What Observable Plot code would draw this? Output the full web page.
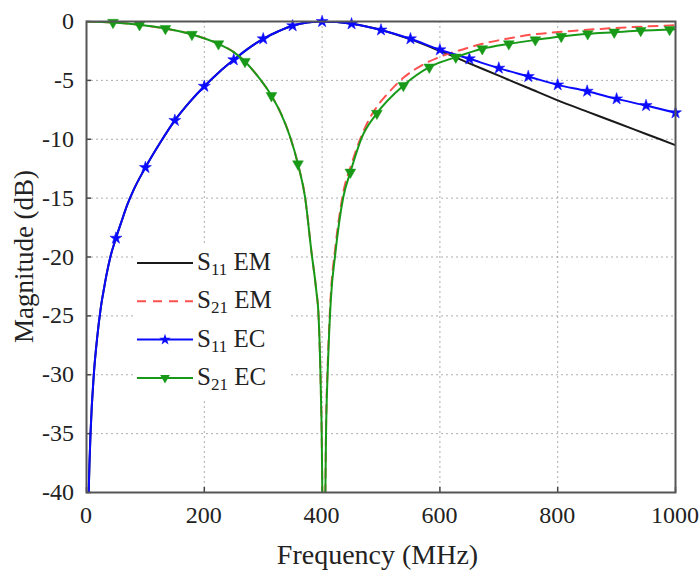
<!DOCTYPE html>
<html><head><meta charset="utf-8">
<script src="https://cdn.jsdelivr.net/npm/d3@7"></script>
<script src="https://cdn.jsdelivr.net/npm/@observablehq/plot@0.6"></script>
<style>
body{margin:0;background:#fff}
#chart{width:700px;height:573px}
</style>
</head><body><div id="chart"></div>
<script>
// S11 EM (black solid)
const s11emFreq = [3, 4, 7, 12.4, 18, 24, 30, 34, 40, 50, 60, 69, 80, 100, 125, 150, 175, 200, 225, 250, 275, 300, 325, 350, 375, 400, 425, 450, 475, 500, 550, 600, 650, 700, 750, 800, 850, 900, 950, 1000];
const s11emDb   = [-42, -39.5, -34.8, -30, -26.9, -24.4, -22.6, -21.5, -20.1, -18.4, -16.9, -15.6, -14.3, -12.4, -10.3, -8.4, -6.85, -5.5, -4.3, -3.25, -2.28, -1.47, -0.85, -0.36, -0.08, 0, -0.05, -0.2, -0.42, -0.72, -1.52, -2.5, -3.55, -4.6, -5.65, -6.7, -7.65, -8.6, -9.55, -10.5];
// S21 EM (red dashed)
const s21emFreq = [0, 45, 90, 134, 179, 224, 250, 269, 290, 314, 330, 345, 359, 371, 382, 390, 394, 397, 399, 403, 407, 410, 415, 422, 436, 450, 467, 480, 495, 510, 540, 570, 600, 640, 680, 710, 750, 800, 850, 900, 950, 1000];
const s21emDb   = [0, -0.08, -0.28, -0.6, -1.1, -1.9, -2.6, -3.4, -4.6, -6.3, -7.8, -9.7, -12.1, -14.9, -19.6, -22.8, -25, -29.5, -34, -50, -33.5, -28.5, -23, -19.4, -14.5, -12.1, -9.7, -8.3, -7.1, -6.2, -4.7, -3.7, -3.0, -2.35, -1.8, -1.5, -1.15, -0.9, -0.7, -0.55, -0.42, -0.32];
// S11 EC (blue, star markers)
const s11ecFreq = [3, 4, 7, 12.4, 18, 24, 30, 34, 40, 50, 60, 69, 80, 100, 125, 150, 175, 200, 225, 250, 275, 300, 325, 350, 375, 400, 425, 450, 475, 500, 550, 600, 650, 700, 750, 800, 850, 900, 950, 1000];
const s11ecDb   = [-42, -39.5, -34.8, -30, -26.9, -24.4, -22.6, -21.5, -20.1, -18.4, -16.9, -15.6, -14.3, -12.4, -10.3, -8.4, -6.85, -5.5, -4.3, -3.25, -2.28, -1.47, -0.85, -0.36, -0.08, 0, -0.05, -0.2, -0.42, -0.72, -1.47, -2.4, -3.17, -3.96, -4.67, -5.38, -5.92, -6.57, -7.14, -7.75];
const s11ecMarkFreq = [50, 100, 150, 200, 250, 300, 350, 400, 450, 500, 550, 600, 650, 700, 750, 800, 850, 900, 950, 1000];
// S21 EC (green, triangle markers)
const s21ecFreq = [0, 45, 90, 134, 179, 224, 250, 269, 290, 314, 330, 345, 359, 371, 382, 390, 394, 397, 399, 403, 407, 410, 415, 422, 436, 448, 467, 493, 538, 582, 627, 672, 717, 762, 806, 851, 896, 941, 990, 1000];
const s21ecDb   = [0, -0.08, -0.28, -0.6, -1.1, -1.9, -2.6, -3.4, -4.6, -6.3, -7.8, -9.7, -12.1, -14.9, -19.6, -22.8, -25, -29.5, -34, -50, -34, -29, -23.5, -19.9, -14.9, -12.8, -9.9, -7.8, -5.44, -3.88, -3.03, -2.32, -1.9, -1.56, -1.27, -1.05, -0.91, -0.77, -0.68, -0.66];
const s21ecMarkFreq = [45, 90, 134, 179, 224, 269, 314, 359, 403, 448, 493, 538, 582, 627, 672, 717, 762, 806, 851, 896, 941, 990];

const xTicks = [0, 200, 400, 600, 800, 1000];
const yTicks = [0, -5, -10, -15, -20, -25, -30, -35, -40];
const xTitle = "Frequency (MHz)";
const yTitle = "Magnitude (dB)";
const seriesNames = ["EM", "EM", "EC", "EC"];
const seriesSubs = ["11", "21", "11", "21"];

const tbl = (fs, ds) => fs.map((f, i) => ({f, db: ds[i]}));
const s11em = tbl(s11emFreq, s11emDb);
const s21em = tbl(s21emFreq, s21emDb);
const s11ec = tbl(s11ecFreq, s11ecDb);
const s21ec = tbl(s21ecFreq, s21ecDb);
const s11ecMarks = s11ec.filter(d => s11ecMarkFreq.includes(d.f) && d.db >= -40);
const s21ecMarks = s21ec.filter(d => s21ecMarkFreq.includes(d.f) && d.db >= -40);

const BLUE = "#0a0aff", GREEN = "#189a18", RED = "#ff5050", BLACK = "#1a1a1a";
const FONT = "Liberation Serif, DejaVu Serif, Times New Roman, serif";

const plot = Plot.plot({
  width: 700, height: 573,
  marginLeft: 86, marginRight: 25, marginTop: 21, marginBottom: 81,
  style: {fontFamily: FONT, fontSize: "22px"},
  x: {domain: [0, 1000]},
  y: {domain: [-40, 0]},
  marks: [
    Plot.gridX(xTicks, {stroke: "#9a9a9a", strokeOpacity: 0.8, strokeDasharray: "2,3"}),
    Plot.gridY(yTicks, {stroke: "#9a9a9a", strokeOpacity: 0.8, strokeDasharray: "2,3"}),
    Plot.axisX(xTicks, {tickSize: -5, tickFormat: () => "", stroke: "#444", strokeWidth: 1.5, label: null}),
    Plot.axisY(yTicks, {tickSize: -5, tickFormat: () => "", stroke: "#444", strokeWidth: 1.5, label: null}),
    Plot.line(s11em, {x: "f", y: "db", stroke: BLACK, strokeWidth: 2, curve: "monotone-x", clip: true}),
    Plot.line(s21em, {x: "f", y: "db", stroke: RED, strokeWidth: 2, strokeDasharray: "9,7", curve: "monotone-x", clip: true}),
    Plot.line(s11ec, {x: "f", y: "db", stroke: BLUE, strokeWidth: 2, curve: "monotone-x", clip: true}),
    Plot.dot(s11ecMarks, {x: "f", y: "db", symbol: "star", r: 3.8, fill: BLUE, stroke: BLUE, strokeWidth: 0.5}),
    Plot.line(s21ec, {x: "f", y: "db", stroke: GREEN, strokeWidth: 2, curve: "monotone-x", clip: true}),
    Plot.dot(s21ecMarks, {x: "f", y: "db", symbol: "triangle", rotate: 180, r: 4, fill: GREEN, stroke: GREEN, strokeWidth: 0.5}),
    Plot.frame({stroke: "#555", strokeWidth: 2})
  ]
});
document.getElementById("chart").appendChild(plot);

const svg = d3.select(plot);
const sx = plot.scale("x"), sy = plot.scale("y");
const [x0, x1] = sx.range, [y0, y1] = sy.range; // y0 bottom, y1 top

// Tick labels and axis titles, positioned through the plot's scales
const ax = svg.append("g").attr("fill", "#222").attr("font-family", FONT);
xTicks.forEach(v => {
  ax.append("text").attr("x", sx.apply(v)).attr("y", y0 + 31)
    .attr("text-anchor", "middle").attr("font-size", 24)
    .append("tspan").text(String(v));
});
yTicks.forEach(v => {
  ax.append("text").attr("x", x0 - 12).attr("y", sy.apply(v) + 8)
    .attr("text-anchor", "end").attr("font-size", 24)
    .append("tspan").text(String(v));
});
ax.append("text").attr("x", (x0 + x1) / 2 - 3).attr("y", y0 + 72)
  .attr("text-anchor", "middle").attr("font-size", 28)
  .append("tspan").text(xTitle);
ax.append("text").attr("transform", `translate(33,${(y0 + y1) / 2})rotate(-90)`)
  .attr("text-anchor", "middle").attr("font-size", 27)
  .append("tspan").text(yTitle);

// Legend inside the plot area
const lg = svg.append("g").attr("fill", "#222").attr("text-anchor", "start").attr("font-family", FONT);
lg.append("rect").attr("x", 134).attr("y", 244).attr("width", 156).attr("height", 156).attr("fill", "#fff");
const rows = [
  {stroke: BLACK, dash: null, sym: null},
  {stroke: RED, dash: "9,7", sym: null},
  {stroke: BLUE, dash: null, sym: d3.symbolStar},
  {stroke: GREEN, dash: null, sym: d3.symbolTriangle}
];
rows.forEach((r, i) => {
  const y = 263 + i * 38.3;
  lg.append("line").attr("x1", 137).attr("x2", 193).attr("y1", y).attr("y2", y)
    .attr("stroke", r.stroke).attr("stroke-width", 2).attr("stroke-dasharray", r.dash);
  if (r.sym) {
    lg.append("path").attr("d", d3.symbol(r.sym, 40)())
      .attr("transform", `translate(165,${y})` + (r.sym === d3.symbolTriangle ? " rotate(180)" : ""))
      .attr("fill", r.stroke);
  }
  const t = lg.append("text").attr("x", 197).attr("y", y + 7).attr("font-size", 25).attr("text-anchor", "start");
  t.append("tspan").text("S");
  t.append("tspan").attr("font-size", 17).attr("dy", 5).text(seriesSubs[i]);
  t.append("tspan").attr("dy", -5).text(" " + seriesNames[i]);
});
svg.selectAll("text, tspan").attr("font-family", FONT).style("font-family", FONT);
</script>
</body></html>
